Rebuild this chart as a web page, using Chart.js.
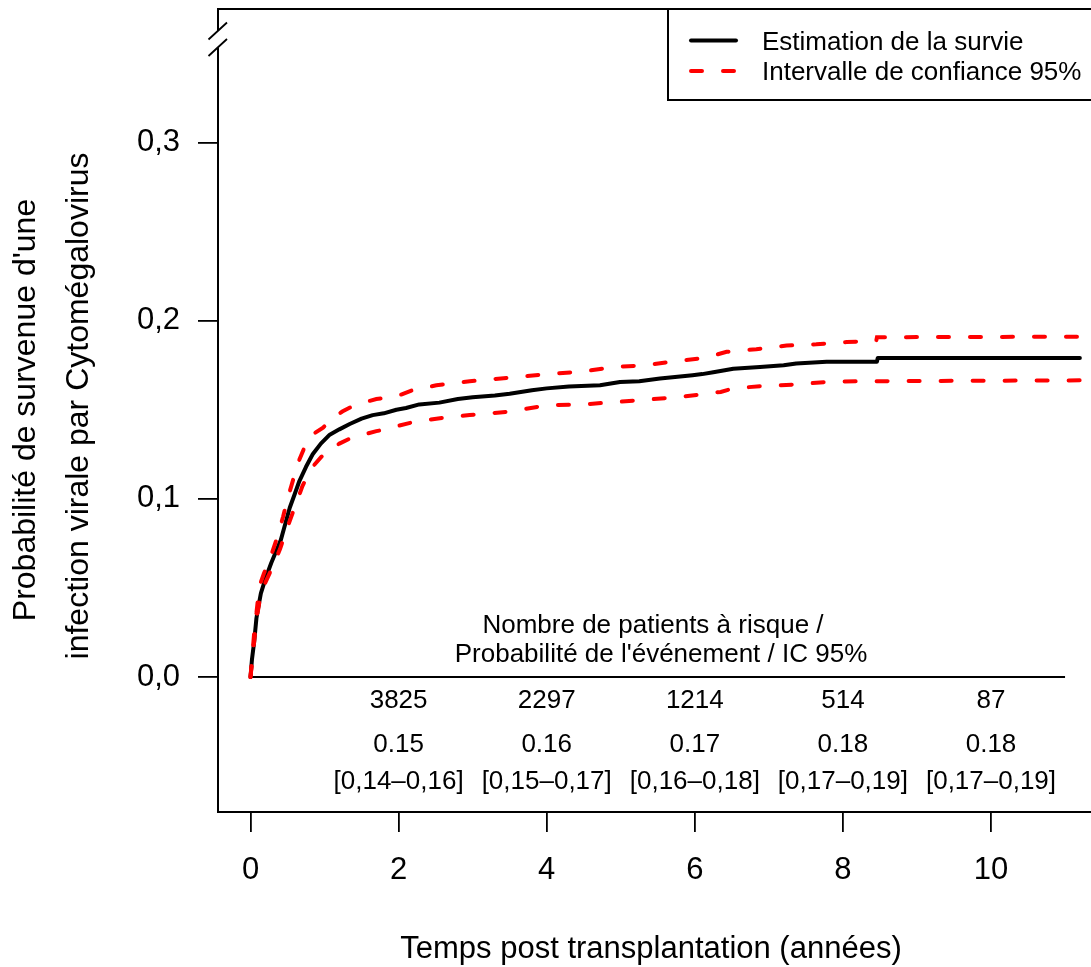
<!DOCTYPE html>
<html>
<head>
<meta charset="utf-8">
<script src="https://cdn.jsdelivr.net/npm/chart.js@4/dist/chart.umd.min.js"></script>
<style>
html,body{margin:0;padding:0;background:#fff;overflow:hidden;width:1091px;height:967px}
#wrap{width:1091px;height:967px;overflow:hidden;position:relative}
canvas{display:block}
</style>
</head>
<body>
<div id="wrap"><canvas id="c" width="1110" height="967"></canvas></div>
<script>
// ---- Data ----
const estTimes  = [0,0.02,0.05,0.08,0.1,0.14,0.2,0.28,0.35,0.41,0.47,0.53,0.6,0.66,0.75,0.84,0.95,1.07,1.2,1.34,1.5,1.65,1.8,1.97,2.1,2.28,2.55,2.8,3.0,3.3,3.5,3.8,4.0,4.3,4.72,4.99,5.25,5.53,5.97,6.1,6.25,6.52,6.88,7.2,7.37,7.78,8.46,8.47,11.2];
const estValues = [0,0.01,0.02,0.033,0.038,0.047,0.055,0.064,0.071,0.077,0.086,0.095,0.103,0.110,0.118,0.125,0.131,0.136,0.139,0.142,0.145,0.147,0.148,0.150,0.151,0.153,0.154,0.156,0.157,0.158,0.159,0.161,0.162,0.163,0.1637,0.1656,0.166,0.1675,0.1694,0.170,0.171,0.173,0.174,0.175,0.176,0.177,0.177,0.179,0.179];

const upperTimes  = [0,0.03,0.06,0.08,0.12,0.18,0.26,0.35,0.44,0.5,0.55,0.64,0.75,0.87,0.98,1.1,1.24,1.38,1.52,1.7,1.88,2.0,2.19,2.51,2.96,3.5,4.0,4.5,4.9,5.35,5.7,6.11,6.3,6.43,6.83,7.24,7.64,8.05,8.45,8.46,11.2];
const upperValues = [0,0.015,0.03,0.036,0.051,0.058,0.066,0.077,0.090,0.1,0.107,0.120,0.131,0.137,0.140,0.145,0.149,0.152,0.154,0.156,0.157,0.158,0.161,0.1637,0.166,0.168,0.170,0.1715,0.174,0.175,0.177,0.179,0.181,0.1825,0.184,0.186,0.1867,0.188,0.1886,0.1907,0.191];

const lowerTimes  = [0,0.03,0.08,0.14,0.2,0.3,0.4,0.48,0.56,0.64,0.7,0.77,0.86,0.955,1.08,1.2,1.35,1.52,1.7,1.88,2.0,2.19,2.51,2.96,3.5,4.0,4.5,4.94,5.35,5.75,6.16,6.35,6.52,6.88,7.33,7.78,8.23,11.2];
const lowerValues = [0,0.012,0.032,0.047,0.053,0.062,0.072,0.082,0.091,0.100,0.107,0.113,0.119,0.1235,0.128,0.131,0.134,0.136,0.138,0.1395,0.141,0.143,0.145,0.147,0.149,0.1525,0.153,0.1544,0.1557,0.157,0.159,0.160,0.162,0.1632,0.1641,0.1656,0.166,0.1665];

const xTicks = [0,2,4,6,8,10];
const yTicks = [0,0.1,0.2,0.3];

const riskTimes = [2,4,6,8,10];
const riskN     = ['3825','2297','1214','514','87'];
const riskProb  = ['0.15','0.16','0.17','0.18','0.18'];
const riskCI    = ['[0,14–0,16]','[0,15–0,17]','[0,16–0,18]','[0,17–0,19]','[0,17–0,19]'];
const riskHeader = ['Nombre de patients à risque /', "Probabilité de l'événement / IC 95%"];
const riskLineEnd = 11;

const legendLabels = ['Estimation de la survie','Intervalle de confiance 95%'];
const xTitle = 'Temps post transplantation (années)';
const yTitle = ["Probabilité de survenue d'une", 'infection virale par Cytomégalovirus'];

// ---- Rendering ----
const FAMILY = "'Liberation Sans', Arial, Helvetica, sans-serif";
Chart.defaults.font.family = FAMILY;
Chart.defaults.color = '#000';

const toPts = (t, v) => t.map((x, i) => ({x: x, y: v[i]}));

const decor = {
  id: 'decor',
  beforeDatasetsDraw(chart) {
    const ctx = chart.ctx, xs = chart.scales.x, ys = chart.scales.y;
    ctx.save();
    ctx.strokeStyle = '#000'; ctx.lineWidth = 2;
    const y0 = ys.getPixelForValue(0);
    ctx.beginPath();
    ctx.moveTo(xs.getPixelForValue(0), y0);
    ctx.lineTo(xs.getPixelForValue(riskLineEnd), y0);
    ctx.stroke();
    ctx.restore();
  },
  afterDraw(chart) {
    const ctx = chart.ctx, xs = chart.scales.x, a = chart.chartArea;
    ctx.save();
    ctx.strokeStyle = '#000'; ctx.lineWidth = 2; ctx.lineCap = 'butt';
    ctx.beginPath();
    ctx.moveTo(a.left, a.top); ctx.lineTo(a.right, a.top);
    ctx.moveTo(a.left, a.bottom); ctx.lineTo(a.right, a.bottom);
    ctx.moveTo(a.right, a.top); ctx.lineTo(a.right, a.bottom);
    ctx.moveTo(a.left, a.top - 1); ctx.lineTo(a.left, 31);
    ctx.moveTo(a.left, 47.5); ctx.lineTo(a.left, a.bottom + 1);
    ctx.stroke();
    ctx.lineWidth = 1.8;
    ctx.beginPath();
    ctx.moveTo(208.5, 39.5); ctx.lineTo(227, 22.5);
    ctx.moveTo(208.5, 56); ctx.lineTo(227, 39);
    ctx.stroke();

    // risk table
    ctx.fillStyle = '#000';
    ctx.font = '26px ' + FAMILY;
    ctx.textAlign = 'center'; ctx.textBaseline = 'alphabetic';
    ctx.fillText(riskHeader[0], 653, 633);
    ctx.fillText(riskHeader[1], 661, 662);
    riskTimes.forEach((t, i) => {
      const px = xs.getPixelForValue(t);
      ctx.fillText(riskN[i], px, 708);
      ctx.fillText(riskProb[i], px, 752);
      ctx.fillText(riskCI[i], px, 789);
    });

    // axis titles
    ctx.font = '31px ' + FAMILY;
    ctx.fillText(xTitle, 651, 958);
    ctx.font = '32px ' + FAMILY;
    ctx.save();
    ctx.translate(35, 410); ctx.rotate(-Math.PI / 2);
    ctx.fillText(yTitle[0], 0, 0);
    ctx.restore();
    ctx.save();
    ctx.translate(88, 406); ctx.rotate(-Math.PI / 2);
    ctx.fillText(yTitle[1], 0, 0);
    ctx.restore();

    // legend
    ctx.fillStyle = '#fff';
    ctx.fillRect(668, a.top, 1110 - 668, 100 - a.top);
    ctx.strokeStyle = '#000'; ctx.lineWidth = 2;
    ctx.strokeRect(668, a.top, 1105 - 668, 100 - a.top);
    ctx.lineWidth = 4; ctx.lineCap = 'round';
    ctx.beginPath(); ctx.moveTo(691, 40.5); ctx.lineTo(736, 40.5); ctx.stroke();
    ctx.strokeStyle = '#ff0000';
    ctx.setLineDash([11, 21]);
    ctx.beginPath(); ctx.moveTo(691, 71); ctx.lineTo(736, 71); ctx.stroke();
    ctx.setLineDash([]);
    ctx.fillStyle = '#000';
    ctx.font = '26px ' + FAMILY;
    ctx.textAlign = 'left';
    ctx.fillText(legendLabels[0], 762, 50);
    ctx.fillText(legendLabels[1], 762, 80);
    ctx.restore();
  }
};

new Chart(document.getElementById('c'), {
  type: 'line',
  data: {
    datasets: [
      {label: legendLabels[0], data: toPts(estTimes, estValues), borderColor: '#000', borderWidth: 4,
       pointRadius: 0, tension: 0, fill: false, borderJoinStyle: 'round', borderCapStyle: 'round', order: 2},
      {label: legendLabels[1], data: toPts(upperTimes, upperValues), borderColor: '#ff0000', borderWidth: 4,
       borderDash: [11, 21], pointRadius: 0, tension: 0, fill: false, borderCapStyle: 'round', order: 1},
      {label: legendLabels[1] + ' (inf.)', data: toPts(lowerTimes, lowerValues), borderColor: '#ff0000', borderWidth: 4,
       borderDash: [11, 21], pointRadius: 0, tension: 0, fill: false, borderCapStyle: 'round', order: 1}
    ]
  },
  options: {
    responsive: false,
    animation: false,
    devicePixelRatio: 1,
    layout: {padding: {left: 0, top: 9, right: 10, bottom: 0}},
    plugins: {legend: {display: false}, tooltip: {enabled: false}},
    scales: {
      x: {
        type: 'linear', position: 'bottom',
        min: (218 - 250.5) / 74.05, max: (1100 - 250.5) / 74.05,
        afterBuildTicks: s => { s.ticks = xTicks.map(v => ({value: v})); },
        afterFit: s => { s.height = 155; s.paddingLeft = 0; s.paddingRight = 0; s.paddingTop = 0; s.paddingBottom = 0; },
        ticks: {font: {size: 31}, color: '#000', padding: 20, maxRotation: 0, autoSkip: false,
                callback: v => String(v)},
        grid: {drawOnChartArea: false, drawTicks: true, tickLength: 20, color: '#000', lineWidth: 1.8},
        border: {display: false}
      },
      y: {
        type: 'linear', position: 'left',
        min: -135 / 1783.3, max: (677.5 - 9) / 1783.3,
        afterBuildTicks: s => { s.ticks = yTicks.map(v => ({value: v})); },
        afterFit: s => { s.width = 218; s.paddingLeft = 0; s.paddingRight = 0; s.paddingTop = 0; s.paddingBottom = 0; },
        ticks: {font: {size: 31}, color: '#000', padding: 18, autoSkip: false,
                callback: v => v.toFixed(1).replace('.', ',')},
        grid: {drawOnChartArea: false, drawTicks: true, tickLength: 20, color: '#000', lineWidth: 1.8},
        border: {display: false}
      }
    }
  },
  plugins: [decor]
});
</script>
</body>
</html>
